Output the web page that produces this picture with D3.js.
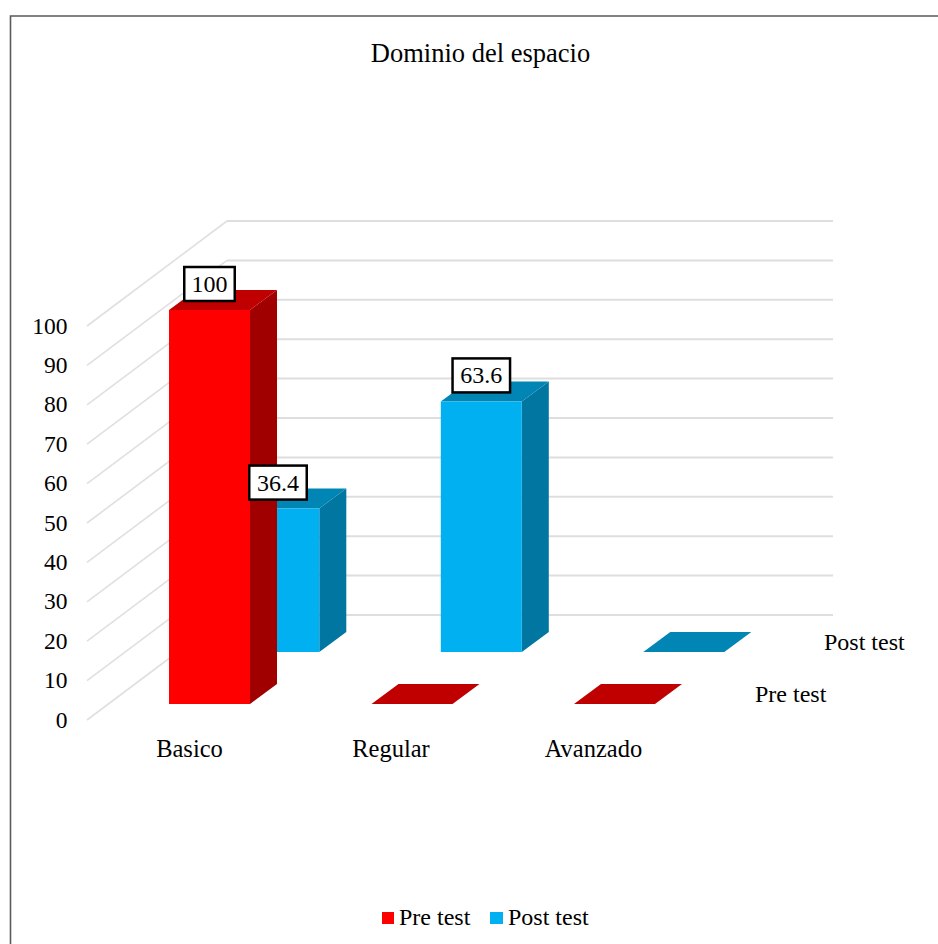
<!DOCTYPE html>
<html><head><meta charset="utf-8">
<script src="https://cdn.jsdelivr.net/npm/d3@7/dist/d3.min.js"></script>
<style>html,body{margin:0;padding:0;background:#fff}svg{display:block}text{font-family:"Liberation Serif",serif;fill:#000}</style>
</head><body><svg id="c" width="938" height="944"></svg>
<script>
const titleText = "Dominio del espacio";
const categories = ["Basico","Regular","Avanzado"];
const seriesNames = ["Pre test","Post test"];
const preValues = [100,0,0];
const postValues = [36.4,63.6,0];
const preLabels = ["100",null,null];
const postLabels = ["36.4","63.6",null];
const yTicks = [0,10,20,30,40,50,60,70,80,90,100];

const svg = d3.select("#c");
const y = d3.scaleLinear().domain([0,100]).range([0,-394]);
const x = d3.scaleLinear().domain([0,1,2]).range([169,371.5,574]);
const barW = 81;
const depthX = d3.scaleLinear().domain([0,1]).range([0,69.3]);
const depthY = d3.scaleLinear().domain([0,1]).range([704,652]);
const skewX = 27, skewY = -20;
const colors = {
  pre:{front:"#ff0000",side:"#a00000",top:"#c00000"},
  post:{front:"#00b0f0",side:"#0076a0",top:"#0085b5"}
};
// frame: left and top edges only, the right edge is cropped away
svg.append("path").attr("d","M10.5,944V16H938").attr("fill","none").attr("stroke","#5a5a5a").attr("stroke-width",1.6);
svg.append("text").attr("x",480.5).attr("y",62).attr("text-anchor","middle").attr("font-size",26.5).text(titleText);

// wall gridlines
const wallFrontX = 87, wallBackX = 227, wallFrontY = 720, wallBackY = 615, wallRight = 833;
yTicks.forEach(t=>{
  svg.append("path")
    .attr("d",`M${wallFrontX},${wallFrontY+y(t)}L${wallBackX},${wallBackY+y(t)}`)
    .attr("fill","none").attr("stroke","#e0e0e0").attr("stroke-width",1.6);
  svg.append("path")
    .attr("d",`M${wallBackX},${wallBackY+y(t)}H${wallRight}`)
    .attr("fill","none").attr("stroke","#dedede").attr("stroke-width",2);
});
// y axis labels
svg.append("g").selectAll("text").data(yTicks).join("text")
  .attr("x",67.5).attr("y",d=>wallFrontY+y(d)+7.5).attr("text-anchor","end").attr("font-size",23.5).text(d=>d);

function bar(g,i,s,v,c){
  const x0=x(i)+depthX(s), x1=x0+barW, yb=depthY(s), yt=yb+y(v);
  const poly=(pts,f)=>g.append("polygon").attr("points",pts.map(p=>p.join(",")).join(" ")).attr("fill",f);
  if(v>0){
    poly([[x1,yb],[x1+skewX,yb+skewY],[x1+skewX,yt+skewY],[x1,yt]],c.side);
    poly([[x0,yt],[x1,yt],[x1+skewX,yt+skewY],[x0+skewX,yt+skewY]],c.top);
    poly([[x0,yb],[x1,yb],[x1,yt],[x0,yt]],c.front);
  } else {
    poly([[x0,yt],[x1,yt],[x1+skewX,yt+skewY],[x0+skewX,yt+skewY]],c.top);
  }
}
const gBars = svg.append("g");
[1,0].forEach(s=>{
  const vals = s? postValues : preValues;
  const c = s? colors.post : colors.pre;
  vals.forEach((v,i)=>bar(gBars,i,s,v,c));
});
// data labels
function label(txt,cx,cy,w){
  svg.append("rect").attr("x",cx-w/2).attr("y",cy-17).attr("width",w).attr("height",34).attr("fill","#fff").attr("stroke","#000").attr("stroke-width",2.5);
  svg.append("text").attr("x",cx).attr("y",cy+8).attr("text-anchor","middle").attr("font-size",24).text(txt);
}
[[preLabels,preValues,0],[postLabels,postValues,1]].forEach(([ls,vs,s])=>{
  ls.forEach((l,i)=>{
    if(!l) return;
    const cx = x(i)+depthX(s)+barW/2 + (s===0?0:(i===0?-0.8:0));
    const cy = depthY(s)+y(vs[i]) - 26;
    label(l,cx,cy,l.length===3?50.5:57.5);
  });
});
// category labels
svg.append("g").selectAll("text").data(categories).join("text")
  .attr("x",(d,i)=>[189.5,391,593.5][i]).attr("y",757).attr("text-anchor","middle").attr("font-size",24.5).text(d=>d);
// depth labels
svg.append("text").attr("x",755).attr("y",702).attr("font-size",24).text(seriesNames[0]);
svg.append("text").attr("x",824).attr("y",650).attr("font-size",24).text(seriesNames[1]);
// legend
svg.append("rect").attr("x",382).attr("y",912).attr("width",12).attr("height",12).attr("fill",colors.pre.front);
svg.append("text").attr("x",399).attr("y",925).attr("font-size",24).text(seriesNames[0]);
svg.append("rect").attr("x",490).attr("y",912).attr("width",13).attr("height",12).attr("fill",colors.post.front);
svg.append("text").attr("x",508).attr("y",925).attr("font-size",24).text(seriesNames[1]);
</script></body></html>
